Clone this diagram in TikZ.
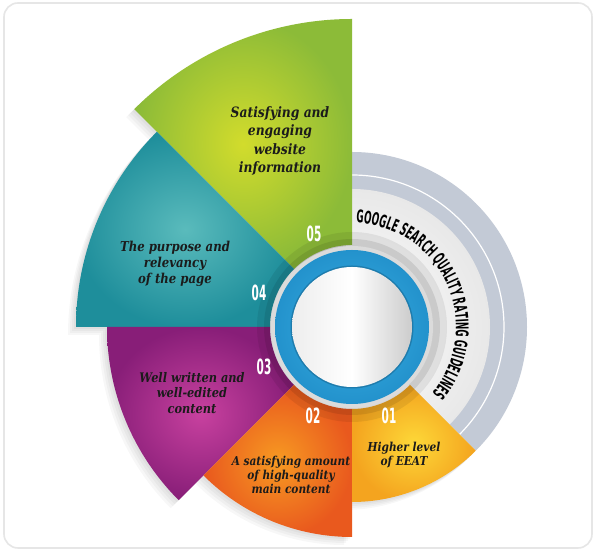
\documentclass[tikz,border=0pt]{standalone}
\usepackage{fontspec}
\usetikzlibrary{decorations.text}
\newfontfamily\bodyfont{DejaVu Serif}[FakeStretch=0.86]
\newfontfamily\condfont{DejaVu Sans}[FakeStretch=0.5]
\newcommand\arcfont{\condfont\bfseries\fontsize{17.5}{17.5}\selectfont}
\definecolor{greenin}{HTML}{D2DC2C}
\definecolor{greenout}{HTML}{8CBB38}
\definecolor{tealin}{HTML}{5ABBBC}
\definecolor{tealout}{HTML}{1E8E9B}
\definecolor{purpin}{HTML}{C8419F}
\definecolor{purpout}{HTML}{881E78}
\definecolor{orin}{HTML}{F79A22}
\definecolor{orout}{HTML}{E9591E}
\definecolor{yelin}{HTML}{FDD838}
\definecolor{yelout}{HTML}{F4A41F}
\definecolor{ringgray}{HTML}{C3CAD6}
\definecolor{bluein}{HTML}{39B0E4}
\definecolor{blueout}{HTML}{2392CC}
\definecolor{textdark}{HTML}{1B1B1B}
\definecolor{framegray}{HTML}{E6E6E6}
\tikzset{
  secp/.style n args={3}{insert path={(#1:82) -- (#1:#3) arc[start angle=#1,end angle=#2,radius=#3] -- (#2:82) arc[start angle=#2,end angle=#1,radius=82] -- cycle}},
  pie/.style n args={3}{insert path={(0,0) -- (#1:#3) arc[start angle=#1,end angle=#2,radius=#3] -- cycle}},
  shadowstep/.style={fill=black, opacity=0.03, shift={(-#1,-#1)}},
  bodytext/.style={align=center, text=textdark, inner sep=0pt},
  numtext/.style={text=white, inner sep=0pt, font=\condfont\bfseries\fontsize{21}{21}\selectfont},
}
\begin{document}
\begin{tikzpicture}[x=1pt,y=1pt]
\useasboundingbox (0,0) rectangle (600,556);
\fill[white] (0,0) rectangle (600,556);
% frame
\draw[framegray, line width=1.6, rounded corners=14] (4,8) rectangle (592,553);
\begin{scope}[shift={(352,229)}]
  % soft shadows
  \foreach \a/\b/\r in {90/135/308,135/180/276,180/225/245,225/270/210,270/315/175}{
    \foreach \s in {2,4,6,8}{
      \fill[shadowstep=\s, secp={\a}{\b}{\r}];
    }
  }
  % gray rings on right side
  \fill[ringgray, pie={-45}{90}{175}];
  \draw[white, line width=1.2] (90:152) arc[start angle=90,end angle=-45,radius=152];
  \begin{scope}
    \clip[pie={-45}{90}{138}];
    \shade[inner color=white, outer color=black!9] (0,0) circle (138);
  \end{scope}
  % sectors
  \shade[inner color=greenin, outer color=greenout, secp={90}{135}{308}];
  \shade[inner color=tealin, outer color=tealout, secp={135}{180}{276}];
  \shade[inner color=purpin, outer color=purpout, secp={180}{225}{245}];
  \shade[inner color=orin, outer color=orout, secp={225}{270}{210}];
  \shade[inner color=yelin, outer color=yelout, secp={270}{315}{175}];
  % inner shadow ring
  \fill[black, opacity=0.07] (0,0) circle (95);
  \fill[black, opacity=0.09] (0,0) circle (88);
  \fill[black!14] (0,0) circle (81);
  \shade[inner color=bluein, outer color=blueout] (0,0) circle (77);
  \fill[blueout!85!black] (0,0) circle (61.5);
  \shade[left color=black!7, right color=black!20, middle color=white] (0,0) circle (60);
  % arc text
  \path[decorate, decoration={text along path, text align=center,
     text={|\arcfont|GOOGLE SEARCH QUALITY RATING GUIDELINES}}]
     (100:104) arc[start angle=100,end angle=-52,radius=104];
  % numbers
  \node[numtext] (n1) at (37,-89) {01};
  \node[numtext] (n2) at (-39,-89) {02};
  \node[numtext] (n3) at (-88,-40) {03};
  \node[numtext] (n4) at (-93,34) {04};
  \node[numtext] (n5) at (-38,93) {05};
  % texts
  \node[bodytext, font=\bodyfont\bfseries\itshape\fontsize{14.3}{18.3}\selectfont] (t5) at (-72,186)
     {Satisfying and\\engaging\\website\\information};
  \node[bodytext, font=\bodyfont\bfseries\itshape\fontsize{13.6}{16}\selectfont] (t4) at (-177,63)
     {The purpose and\\relevancy\\of the page};
  \node[bodytext, font=\bodyfont\bfseries\itshape\fontsize{13.2}{15.3}\selectfont] (t3) at (-160,-66)
     {Well written and\\well-edited\\content};
  \node[bodytext, font=\bodyfont\bfseries\itshape\fontsize{12.3}{14}\selectfont] (t2) at (-61,-148)
     {A satisfying amount\\of high-quality\\main content};
  \node[bodytext, font=\bodyfont\bfseries\itshape\fontsize{12.3}{13.5}\selectfont] (t1) at (52,-128)
     {Higher level\\of EEAT};
\end{scope}
\end{tikzpicture}
\end{document}
